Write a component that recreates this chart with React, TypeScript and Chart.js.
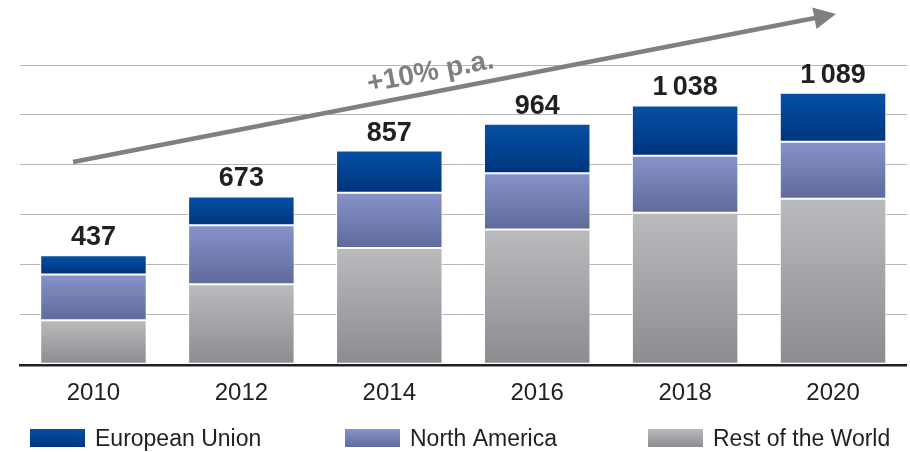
import React, { useEffect, useRef } from "react";
import { Chart, registerables } from "chart.js";

Chart.register(...registerables);

const categories = ["2010", "2012", "2014", "2016", "2018", "2020"];
const restOfWorld = [176, 321, 466, 540, 607, 664];
const northAmerica = [184, 236, 222, 226, 229, 228];
const europeanUnion = [77, 116, 169, 198, 202, 197];
const totalLabels = ["437", "673", "857", "964", "1\u2009038", "1\u2009089"];
const yMax = 1200;
const yStep = 200;
const growthLabel = "+10% p.a.";

const FONT = '"Liberation Sans", Arial, sans-serif';
const TEXT = "#231f20";

const EU_COLORS: [string, string] = ["#0551a6", "#00347b"];
const NA_COLORS: [string, string] = ["#8793ca", "#5f6a9a"];
const ROW_COLORS: [string, string] = ["#babbbd", "#8b8c90"];

function segGradient(colors: [string, string]) {
  return (ctx: any) => {
    const chart = ctx.chart;
    if (!chart.chartArea || ctx.type !== "data" || !chart.scales.y) return colors[0];
    const y = chart.scales.y;
    let start = 0;
    for (let d = 0; d < ctx.datasetIndex; d++) start += chart.data.datasets[d].data[ctx.dataIndex] as number;
    const end = start + (chart.data.datasets[ctx.datasetIndex].data[ctx.dataIndex] as number);
    const y0 = y.getPixelForValue(end);
    const y1 = y.getPixelForValue(start);
    const g = chart.ctx.createLinearGradient(0, y0, 0, y1);
    g.addColorStop(0, colors[0]);
    g.addColorStop(1, colors[1]);
    return g;
  };
}

const decorPlugin = {
  id: "decor",
  afterDatasetsDraw(chart: any) {
    const { ctx, chartArea, scales } = chart;
    const x = scales.x;
    const y = scales.y;
    ctx.save();
    // baseline
    const y0 = y.getPixelForValue(0);
    ctx.strokeStyle = TEXT;
    ctx.lineWidth = 2.5;
    ctx.beginPath();
    ctx.moveTo(chartArea.left - 0.5, y0 + 1);
    ctx.lineTo(chartArea.right, y0 + 1);
    ctx.stroke();
    // totals
    ctx.fillStyle = TEXT;
    ctx.font = `bold 27px ${FONT}`;
    ctx.textAlign = "center";
    ctx.textBaseline = "alphabetic";
    categories.forEach((_, i) => {
      const total = restOfWorld[i] + northAmerica[i] + europeanUnion[i];
      ctx.fillText(totalLabels[i], x.getPixelForValue(i), y.getPixelForValue(total) - 10);
    });
    ctx.restore();
  },
  afterDraw(chart: any) {
    const { ctx } = chart;
    ctx.save();
    // growth arrow
    const sx = 73, sy = 162, tx = 836, ty = 14;
    const dx = tx - sx, dy = ty - sy;
    const len = Math.hypot(dx, dy);
    const ux = dx / len, uy = dy / len;
    const nx = -uy, ny = ux;
    const headLen = 22, headHalf = 11;
    const bx = tx - ux * headLen, by = ty - uy * headLen;
    ctx.strokeStyle = "#808080";
    ctx.fillStyle = "#808080";
    ctx.lineWidth = 4.5;
    ctx.beginPath();
    ctx.moveTo(sx, sy);
    ctx.lineTo(bx + ux * 2, by + uy * 2);
    ctx.stroke();
    ctx.beginPath();
    ctx.moveTo(tx, ty);
    ctx.lineTo(bx + nx * headHalf, by + ny * headHalf);
    ctx.lineTo(bx - nx * headHalf, by - ny * headHalf);
    ctx.closePath();
    ctx.fill();
    // growth label
    ctx.translate(432, 80);
    ctx.rotate(Math.atan2(dy, dx));
    ctx.font = `bold 28px ${FONT}`;
    ctx.textAlign = "center";
    ctx.textBaseline = "alphabetic";
    ctx.fillText(growthLabel, 0, 0);
    ctx.setTransform(1, 0, 0, 1, 0, 0);
    // legend
    const items = [
      { label: chart.data.datasets[2].label, colors: EU_COLORS, boxX: 30 },
      { label: chart.data.datasets[1].label, colors: NA_COLORS, boxX: 345 },
      { label: chart.data.datasets[0].label, colors: ROW_COLORS, boxX: 648 },
    ];
    const boxTop = 429, boxH = 18, boxW = 55;
    ctx.font = `23px ${FONT}`;
    ctx.textAlign = "left";
    ctx.textBaseline = "alphabetic";
    items.forEach((it) => {
      const g = ctx.createLinearGradient(0, boxTop, 0, boxTop + boxH);
      g.addColorStop(0, it.colors[0]);
      g.addColorStop(1, it.colors[1]);
      ctx.fillStyle = g;
      ctx.fillRect(it.boxX, boxTop, boxW, boxH);
      ctx.fillStyle = TEXT;
      ctx.fillText(it.label, it.boxX + boxW + 10, 446);
    });
    ctx.restore();
  },
};

export default function App() {
  const canvasRef = useRef<HTMLCanvasElement | null>(null);
  useEffect(() => {
    if (!canvasRef.current) return;
    const common = {
      borderColor: "#ffffff",
      borderWidth: 1,
      borderSkipped: false as const,
      barPercentage: 0.72,
      categoryPercentage: 1,
      stack: "s",
    };
    const chart = new Chart(canvasRef.current, {
      type: "bar",
      data: {
        labels: categories,
        datasets: [
          { label: "Rest of the World", data: restOfWorld, backgroundColor: segGradient(ROW_COLORS), ...common },
          { label: "North America", data: northAmerica, backgroundColor: segGradient(NA_COLORS), ...common },
          { label: "European Union", data: europeanUnion, backgroundColor: segGradient(EU_COLORS), ...common },
        ],
      },
      options: {
        responsive: false,
        animation: false,
        layout: { padding: { top: 65, left: 19.5, right: 3, bottom: 29 } },
        plugins: { legend: { display: false }, tooltip: { enabled: false } },
        scales: {
          x: {
            stacked: true,
            grid: { display: false, drawTicks: false },
            border: { display: false },
            ticks: { color: TEXT, font: { family: FONT, size: 24 }, padding: 15 },
          },
          y: {
            stacked: true,
            min: 0,
            max: yMax,
            grid: { color: "#b6b6b6", lineWidth: 1, drawTicks: false },
            border: { display: false },
            ticks: { display: false, stepSize: yStep },
          },
        },
      },
      plugins: [decorPlugin],
    });
    return () => chart.destroy();
  }, []);
  return (
    <div style={{ position: "absolute", left: 0, top: 0, width: 910, height: 452, background: "#fff" }}>
      <canvas ref={canvasRef} width={910} height={452} />
    </div>
  );
}
